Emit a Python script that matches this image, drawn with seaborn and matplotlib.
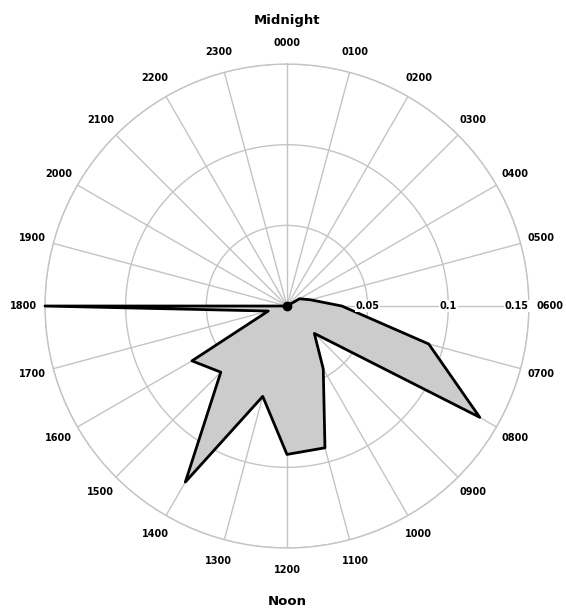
# Polar "rose" of activity by hour of day
import numpy as np
import matplotlib
matplotlib.use("Agg")
import matplotlib.pyplot as plt
import seaborn as sns

# --------------------------------------
# Data
# --------------------------------------
hour_labels = ["0000", "0100", "0200", "0300", "0400", "0500", "0600", "0700",
               "0800", "0900", "1000", "1100", "1200", "1300", "1400", "1500",
               "1600", "1700", "1800", "1900", "2000", "2100", "2200", "2300"]
hour_values = [0.0, 0.0, 0.0, 0.0, 0.009, 0.015, 0.034, 0.091,
               0.138, 0.024, 0.045, 0.091, 0.092, 0.058, 0.126, 0.058,
               0.068, 0.012, 0.150, 0.0, 0.0, 0.0, 0.0, 0.0]
r_ticks = [0.05, 0.1, 0.15]
r_tick_labels = ["0.05", "0.1", "0.15"]

# --------------------------------------
# Plot
# --------------------------------------
sns.set_style("white")
plt.rcParams["font.family"] = ["DejaVu Sans"]
plt.rcParams["text.color"] = "black"
plt.rcParams["xtick.color"] = "black"

theta = np.deg2rad(np.arange(len(hour_labels)) * 360 / len(hour_labels))
theta_closed = np.append(theta, 2 * np.pi)
values_closed = np.append(hour_values, hour_values[0])

fig = plt.figure(figsize=(5.66, 6.09), dpi=100)
ax = fig.add_axes([0.0795, 0.100, 0.855, 0.795], projection="polar")
ax.set_theta_zero_location("N")
ax.set_theta_direction(-1)

ax.fill(theta_closed, values_closed, color="#cccccc", zorder=2)
sns.lineplot(x=theta_closed, y=values_closed, ax=ax, color="black",
             linewidth=2, sort=False, zorder=3, clip_on=False)
# small dot at the origin where all the spokes meet
ax.plot(0, ax.get_rmin(), marker="o", color="black", markersize=6, zorder=4)

ax.set_ylim(0, 0.15)
ax.set_yticks(r_ticks)
ax.set_yticklabels([])

# radial labels along the 0600 spoke, on a white box
for i, (rv, lab) in enumerate(zip(r_ticks, r_tick_labels)):
    last = i == len(r_ticks) - 1
    ax.text(np.pi / 2, rv, lab, ha="right" if last else "center", va="center",
            fontsize=7, fontweight="bold", color="black", zorder=5,
            bbox=dict(facecolor="white", edgecolor="none", pad=0.5))

ax.set_xticks(theta)
ax.set_xticklabels(hour_labels, fontsize=7, fontweight="bold", color="black")
ax.tick_params(axis="x", pad=5)

ax.grid(True, color="#c4c4c4", linewidth=1)
ax.spines["polar"].set_color("#c4c4c4")
ax.spines["polar"].set_linewidth(1)
ax.set_xlabel("")
ax.set_ylabel("")

ax.text(0, 0.177, "Midnight", ha="center", va="center", fontsize=9.5,
        fontweight="bold", color="black", clip_on=False)
ax.text(np.pi, 0.183, "Noon", ha="center", va="center", fontsize=9.5,
        fontweight="bold", color="black", clip_on=False)

fig.savefig("out.png", dpi=100)
